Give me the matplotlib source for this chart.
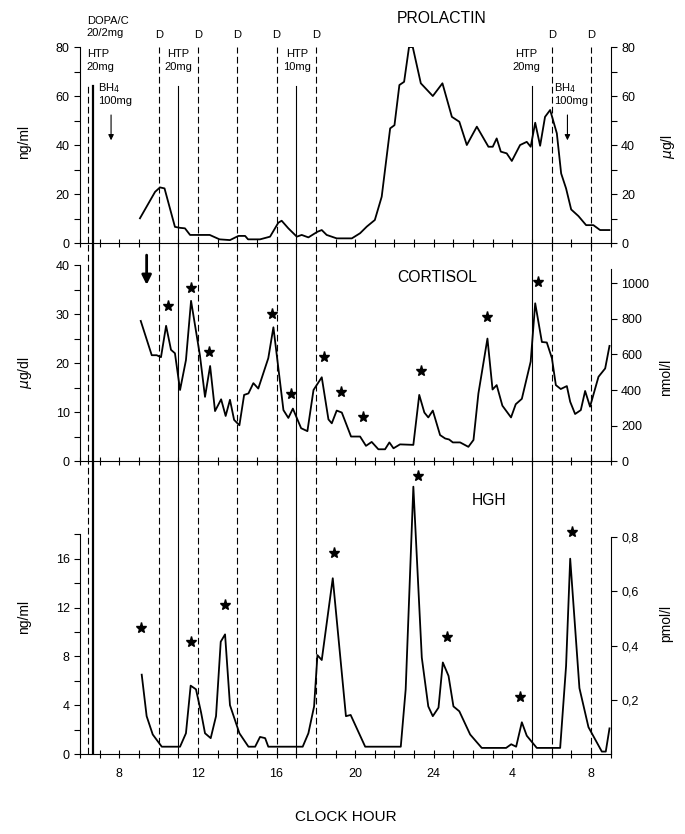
"""Prolactin, cortisol and HGH profiles over 27 clock hours"""

import matplotlib.pyplot as plt
from matplotlib.ticker import MultipleLocator, FixedLocator

plt.rcParams["font.family"] = ["Liberation Sans", "DejaVu Sans"]

# clock hour, counted on from the first day (24 = midnight, 33 = 9 h next day)
prl_t = [9.05, 9.82, 10.07, 10.3, 10.83, 11.09, 11.34, 11.6, 12.6, 13.1, 13.63,
         14.06, 14.4, 14.55, 15.16, 15.67, 16.09, 16.26, 16.6, 17.03, 17.28,
         17.62, 18.08, 18.3, 18.55, 19.06, 19.83, 20.25, 20.59, 21.0, 21.35,
         21.78, 22.0, 22.25, 22.49, 22.74, 22.93, 23.34, 23.95, 24.44, 24.92,
         25.3, 25.68, 26.19, 26.78, 27.0, 27.2, 27.41, 27.71, 27.97, 28.39,
         28.73, 28.93, 29.16, 29.41, 29.66, 29.92, 30.26, 30.48, 30.73, 30.99,
         31.36, 31.75, 32.12, 32.46, 32.94]
prl = [10.1, 20.9, 22.7, 22.3, 6.6, 6.2, 6.0, 3.3, 3.3, 1.5, 1.2,
       2.9, 2.9, 1.5, 1.5, 2.6, 8.3, 9.1, 6.0, 2.6, 3.3,
       2.3, 4.6, 5.3, 3.3, 1.9, 1.9, 4.0, 6.7, 9.4, 18.9,
       46.8, 48.1, 64.5, 65.8, 80.0, 80.0, 65.2, 60.0, 65.2, 51.5,
       49.5, 40.0, 47.5, 39.3, 39.3, 42.7, 37.3, 36.6, 33.5, 40.0,
       41.3, 39.3, 49.1, 39.7, 51.5, 54.3, 44.8, 28.4, 22.3, 13.7,
       11.0, 7.3, 7.3, 5.3, 5.3]

cort_t = [9.09, 9.65, 9.9, 10.12, 10.38, 10.63, 10.83, 11.09, 11.39, 11.65,
          12.1, 12.36, 12.62, 12.87, 13.18, 13.41, 13.63, 13.84, 14.11, 14.35,
          14.57, 14.82, 15.07, 15.58, 15.84, 16.35, 16.6, 16.83, 17.25, 17.57,
          17.88, 18.3, 18.64, 18.81, 19.06, 19.32, 19.79, 20.25, 20.55, 20.84,
          21.18, 21.52, 21.74, 21.95, 22.28, 22.96, 23.26, 23.52, 23.72, 23.95,
          24.32, 24.58, 24.78, 24.97, 25.34, 25.76, 26.02, 26.27, 26.73, 26.99,
          27.2, 27.49, 27.93, 28.17, 28.48, 28.93, 29.16, 29.5, 29.75, 30.01,
          30.21, 30.46, 30.77, 30.94, 31.19, 31.48, 31.7, 31.95, 32.38, 32.72,
          32.94]
cort = [28.6, 21.6, 21.6, 21.2, 27.6, 22.7, 22.0, 14.5, 20.6, 32.7,
        21.6, 13.1, 19.4, 10.2, 12.6, 9.2, 12.5, 8.4, 7.3, 13.5,
        13.8, 15.9, 14.8, 21.0, 27.3, 10.4, 8.8, 10.7, 6.7, 6.1,
        14.5, 17.1, 8.5, 7.7, 10.3, 9.9, 5.0, 5.0, 3.1, 3.9,
        2.4, 2.4, 3.8, 2.6, 3.4, 3.3, 13.5, 9.9, 8.9, 10.3,
        5.3, 4.6, 4.4, 3.8, 3.8, 2.9, 4.3, 13.8, 25.0, 14.6,
        15.5, 11.3, 8.9, 11.6, 12.7, 20.3, 32.2, 24.3, 24.2, 21.0,
        15.5, 14.7, 15.3, 12.1, 9.6, 10.4, 14.3, 11.1, 17.2, 18.9,
        23.5]

hgh_t = [9.14, 9.39, 9.7, 10.16, 11.09, 11.39, 11.63, 11.9, 12.16, 12.36,
         12.65, 12.92, 13.16, 13.38, 13.63, 14.11, 14.57, 14.91, 15.16, 15.42,
         15.58, 17.33, 17.62, 17.91, 18.08, 18.3, 18.86, 19.53, 19.77, 20.51,
         22.32, 22.57, 22.96, 23.39, 23.72, 23.95, 24.24, 24.46, 24.75, 25.0,
         25.3, 25.85, 26.44, 27.68, 27.94, 28.19, 28.48, 28.73, 29.24, 30.43,
         30.73, 30.94, 31.41, 31.87, 32.55, 32.75, 32.94]
hgh = [6.5, 3.1, 1.6, 0.6, 0.6, 1.7, 5.6, 5.3, 3.4, 1.7,
       1.3, 3.1, 9.2, 9.8, 4.0, 1.7, 0.6, 0.6, 1.4, 1.3,
       0.6, 0.6, 1.7, 3.9, 8.1, 7.7, 14.4, 3.1, 3.2, 0.6,
       0.6, 5.3, 21.9, 7.9, 3.9, 3.1, 3.8, 7.5, 6.4, 3.9,
       3.5, 1.6, 0.5, 0.5, 0.8, 0.6, 2.6, 1.5, 0.5, 0.5,
       7.2, 16.0, 5.4, 2.2, 0.2, 0.2, 2.1]

# significant pulses (star positions)
cort_star_t = [10.49, 11.65, 12.58, 15.75, 16.74, 18.42, 19.28, 20.42, 23.34, 26.73, 29.29]
cort_star = [31.6, 35.4, 22.3, 30.0, 13.7, 21.2, 14.1, 9.0, 18.4, 29.3, 36.5]
hgh_star_t = [9.1, 11.65, 13.38, 18.93, 23.2, 24.68, 28.39, 31.02]
hgh_star = [10.3, 9.2, 12.2, 16.5, 22.8, 9.6, 4.7, 18.2]

# drug times
d_times = [10, 12, 14, 16, 18, 30, 32]       # dopamine agonist "D"
htp_times = [11, 17, 29]
htp_labels = ["HTP\n20mg", "HTP\n10mg", "HTP\n20mg"]
dopa_dashed = 6.42
dopa_solid = 6.67

hour_ticks = [8, 12, 16, 20, 24, 28, 32]
hour_labels = ["8", "12", "16", "20", "24", "4", "8"]

NMOL_PER_UGDL = 27.59
NGML_PER_PMOL = 22.2

fig = plt.figure(figsize=(6.85, 8.34), dpi=100)
ax_p = fig.add_axes([0.1168, 0.7086, 0.7747, 0.2350])
ax_c = fig.add_axes([0.1168, 0.4472, 0.7747, 0.2614])
ax_h = fig.add_axes([0.1168, 0.0959, 0.7747, 0.3513])

dash = (0, (6, 3))
fs_tick = 9

for ax in (ax_p, ax_c, ax_h):
    ax.patch.set_visible(False)
    ax.set_xlim(6, 33)
    ax.spines["top"].set_visible(False)
    ax.spines["right"].set_visible(False)
    ax.set_xticks(hour_ticks)
    ax.xaxis.set_minor_locator(MultipleLocator(1))
    ax.tick_params(axis="x", which="both", direction="inout", length=6, width=0.8, pad=7)
    ax.tick_params(axis="y", which="both", direction="out", length=4, width=0.8,
                   labelsize=fs_tick)
    for t in d_times:
        ax.axvline(t, color="k", lw=0.8, ls=dash)
    if ax is ax_p:
        for t in htp_times:
            ax.axvline(t, ymax=0.8, color="k", lw=0.8)
        ax.axvline(dopa_dashed, ymax=0.8, color="k", lw=0.8, ls=dash)
        ax.axvline(dopa_solid, ymax=0.8, color="k", lw=1.6)
    else:
        for t in htp_times:
            ax.axvline(t, color="k", lw=0.8)
        ax.axvline(dopa_dashed, color="k", lw=0.8, ls=dash)
        ax.axvline(dopa_solid, color="k", lw=1.6)

ax_p.tick_params(axis="x", labelbottom=False)
ax_c.tick_params(axis="x", labelbottom=False)
ax_h.set_xticklabels(hour_labels, fontsize=fs_tick)
ax_h.set_xlabel("CLOCK HOUR", fontsize=11, labelpad=22)

# prolactin
ax_p.plot(prl_t, prl, color="k", lw=1.3)
ax_p.set_ylim(0, 80)
ax_p.spines["left"].set_bounds(0, 80)
ax_p.yaxis.set_major_locator(MultipleLocator(20))
ax_p.yaxis.set_minor_locator(MultipleLocator(10))
ax_p.set_ylabel("ng/ml", fontsize=10)
ax_p.yaxis.set_label_coords(-0.092, 0.515)
ax_p2 = ax_p.twinx()
ax_p2.set_ylim(0, 80)

# cortisol
ax_c.plot(cort_t, cort, color="k", lw=1.3)
ax_c.plot(cort_star_t, cort_star, ls="none", marker="*", ms=8, color="k")
ax_c.set_ylim(0, 44.5)
ax_c.spines["left"].set_bounds(0, 40)
ax_c.yaxis.set_major_locator(FixedLocator([0, 10, 20, 30, 40]))
ax_c.yaxis.set_minor_locator(FixedLocator([5, 15, 25, 35]))
ax_c.set_ylabel("$\\mu$g/dl", fontsize=10)
ax_c.yaxis.set_label_coords(-0.086, 0.404)
ax_c.annotate("", xy=(9.39, 35.4), xytext=(9.39, 42.6),
              arrowprops=dict(arrowstyle="-|>", color="k", lw=2, mutation_scale=14))
ax_c2 = ax_c.twinx()
ax_c2.set_ylim(0, 44.5 * NMOL_PER_UGDL)

# growth hormone
ax_h.plot(hgh_t, hgh, color="k", lw=1.3)
ax_h.plot(hgh_star_t, hgh_star, ls="none", marker="*", ms=8, color="k")
ax_h.set_ylim(0, 24)
ax_h.spines["left"].set_bounds(0, 18)
ax_h.yaxis.set_major_locator(FixedLocator([0, 4, 8, 12, 16]))
ax_h.yaxis.set_minor_locator(FixedLocator([2, 6, 10, 14, 18]))
ax_h.set_ylabel("ng/ml", fontsize=10)
ax_h.yaxis.set_label_coords(-0.092, 0.468)
ax_h2 = ax_h.twinx()
ax_h2.set_ylim(0, 24 / NGML_PER_PMOL)

# right-hand unit axes
for ax2, top, label, ly in ((ax_p2, 80, "$\\mu$g/l", 0.49),
                            (ax_c2, 1080, "nmol/l", 0.385),
                            (ax_h2, 0.8, "pmol/l", 0.447)):
    ax2.patch.set_visible(False)
    for side in ("top", "left", "bottom"):
        ax2.spines[side].set_visible(False)
    ax2.spines["right"].set_bounds(0, top)
    ax2.tick_params(axis="y", which="both", direction="out", length=4, width=0.8,
                    labelsize=fs_tick)
    ax2.set_ylabel(label, fontsize=10)
    ax2.yaxis.set_label_coords(1.092, ly)
ax_p2.yaxis.set_major_locator(MultipleLocator(20))
ax_p2.yaxis.set_minor_locator(MultipleLocator(10))
ax_c2.set_yticks([0, 200, 400, 600, 800, 1000])
ax_h2.set_yticks([0.2, 0.4, 0.6, 0.8])
ax_h2.set_yticklabels(["0,2", "0,4", "0,6", "0,8"])

# panel titles
ax_p.text(24.42, 91.8, "PROLACTIN", fontsize=11.3, ha="center", va="center", clip_on=False)
ax_c.text(24.2, 37.5, "CORTISOL", fontsize=11.3, ha="center", va="center")
ax_h.text(26.8, 20.8, "HGH", fontsize=11.3, ha="center", va="center")

# drug annotations above the prolactin panel
fs_ann = 8
for t in d_times:
    ax_p.text(t, 84.9, "D", fontsize=fs_ann, ha="center", va="center", clip_on=False)
ax_p.text(6.34, 88.1, "DOPA/C\n20/2mg", fontsize=fs_ann, ha="left", va="center",
          linespacing=1.25, clip_on=False)
ax_p.text(6.34, 74.5, "HTP\n20mg", fontsize=fs_ann, ha="left", va="center", linespacing=1.35)
ax_p.text(6.93, 61.0, "BH$_4$\n100mg", fontsize=fs_ann, ha="left", va="center", linespacing=1.2)
for t, lab, cx in zip(htp_times, htp_labels, [11.0, 17.03, 28.7]):
    ax_p.text(cx, 74.5, lab, fontsize=fs_ann, ha="center", va="center", linespacing=1.35)
ax_p.text(30.12, 61.0, "BH$_4$\n100mg", fontsize=fs_ann, ha="left", va="center", linespacing=1.2)
for x in (7.58, 30.8):
    ax_p.annotate("", xy=(x, 40.8), xytext=(x, 53.4),
                  arrowprops=dict(arrowstyle="-|>", color="k", lw=0.8, mutation_scale=8))

fig.savefig("out.png", dpi=100)
